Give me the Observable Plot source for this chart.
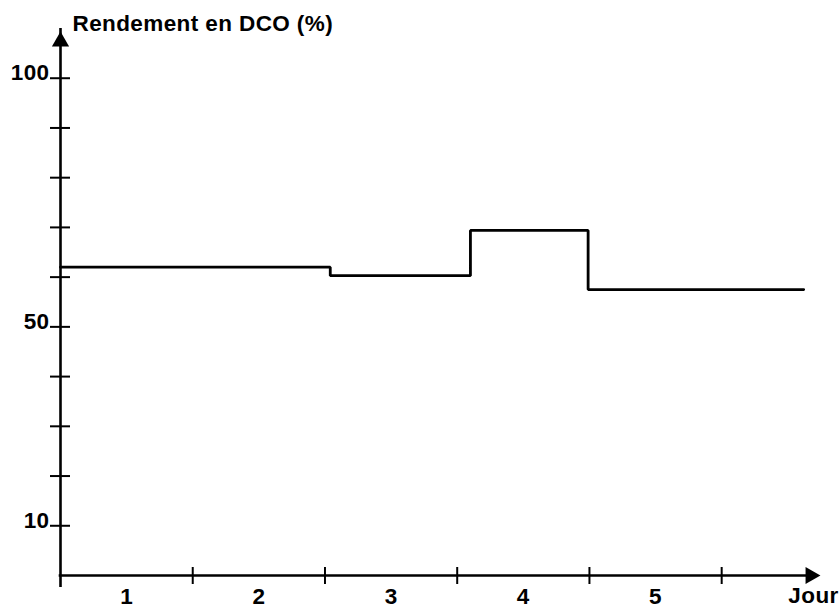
<!DOCTYPE html>
<html>
<head>
<meta charset="utf-8">
<script src="https://cdn.jsdelivr.net/npm/d3@7"></script>
<script src="https://cdn.jsdelivr.net/npm/@observablehq/plot@0.6"></script>
<style>
  html, body { margin: 0; padding: 0; background: #fff; }
</style>
</head>
<body>
<div id="chart"></div>
<script>
// ---- data ----
const stepDays   = [0, 2.04, 3.10, 3.99, 5.62];      // day where each level starts (last = end of line)
const stepValues = [62.0, 60.3, 69.4, 57.5, 57.5];   // Rendement en DCO (%)
const yTickValues  = [10, 20, 30, 40, 50, 60, 70, 80, 90, 100];
const yLabelValues = [10, 50, 100];
const xTickValues  = [1, 2, 3, 4, 5];
const dayLabels    = ["1", "2", "3", "4", "5"];
const dayLabelPos  = [0.5, 1.5, 2.5, 3.5, 4.5];
const yAxisMax = 110;
const xAxisMax = 5.77;
const yTitle = "Rendement en DCO (%)";
const xTitle = "Jour";

const series = stepDays.map((d, i) => ({day: d, value: stepValues[i]}));
const dayLabelData = dayLabels.map((t, i) => ({x: dayLabelPos[i], text: t}));

const font = "'Liberation Sans', Arial, Helvetica, sans-serif";

const chart = Plot.plot({
  width: 840,
  height: 609,
  margin: 0,
  style: {background: "#fff", fontFamily: font, fontSize: "22.5px", fontWeight: "bold", color: "#000", letterSpacing: "0.4px"},
  x: {domain: [0, xAxisMax], range: [60, 823], axis: null},
  y: {domain: [0, yAxisMax], range: [575, 28], axis: null},
  marks: [
    // axis lines
    Plot.ruleX([0], {y1: 0, y2: yAxisMax, stroke: "#000", strokeWidth: 2.6, insetTop: 12}),
    Plot.ruleY([0], {x1: 0, x2: xAxisMax, stroke: "#000", strokeWidth: 2.6, insetRight: 12, insetLeft: -1.3}),
    // arrow heads
    Plot.dot([yAxisMax], {x: 0, y: d => d, symbol: "triangle2", r: 8.2, fill: "#000", stroke: null, dy: 13}),
    Plot.dot([xAxisMax], {x: d => d, y: 0, symbol: "triangle2", r: 8.2, fill: "#000", stroke: null, rotate: 90, dx: -13}),
    // tick marks
    Plot.ruleY(yTickValues, {y: d => d, x1: 0, x2: 0, insetLeft: -10, insetRight: -10, stroke: "#000", strokeWidth: 2}),
    Plot.ruleX(xTickValues, {x: d => d, y1: 0, y2: 0, insetTop: -8, insetBottom: -9, stroke: "#000", strokeWidth: 2}),
    // tick labels
    Plot.text(yLabelValues, {x: 0, y: d => d, text: d => String(d), textAnchor: "end", dx: -11, dy: -5, fill: "#000"}),
    Plot.text(dayLabelData, {x: "x", y: 0, text: "text", dy: 21, fill: "#000"}),
    // axis titles
    Plot.text([yTitle], {x: 0, y: yAxisMax, text: d => d, textAnchor: "start", dx: 12, dy: -5, fill: "#000"}),
    Plot.text([xTitle], {x: xAxisMax, y: 0, text: d => d, dx: -10, dy: 20, fill: "#000"}),
    // data step line
    Plot.line(series, {x: "day", y: "value", curve: "step-after", stroke: "#000", strokeWidth: 2.8, strokeLinejoin: "miter"})
  ]
});
document.getElementById("chart").appendChild(chart);
</script>
</body>
</html>
